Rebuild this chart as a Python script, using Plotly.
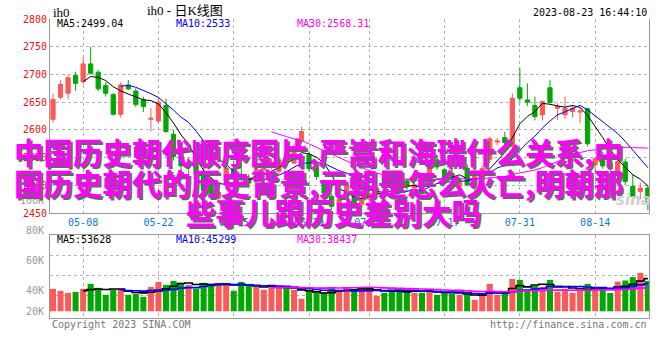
import plotly.graph_objects as go
import pandas as pd

# ---------------- data ----------------
dates = [
    "04-27", "04-28",
    "05-04", "05-05", "05-08", "05-09", "05-10", "05-11", "05-12",
    "05-15", "05-16", "05-17", "05-18", "05-19",
    "05-22", "05-23", "05-24", "05-25", "05-26",
    "05-29", "05-30", "05-31",
    "06-01", "06-02", "06-05", "06-06", "06-07", "06-08", "06-09",
    "06-12", "06-13", "06-14", "06-15", "06-16",
    "06-19", "06-20", "06-21",
    "06-26", "06-27", "06-28", "06-29", "06-30",
    "07-03", "07-04", "07-05", "07-06", "07-07",
    "07-10", "07-11", "07-12", "07-13", "07-14",
    "07-17", "07-18", "07-19", "07-20", "07-21",
    "07-24", "07-25", "07-26", "07-27", "07-28",
    "07-31",
    "08-01", "08-02", "08-03", "08-04",
    "08-07", "08-08", "08-09", "08-10", "08-11",
    "08-14", "08-15", "08-16", "08-17", "08-18",
    "08-21", "08-22", "08-23",
]

open_ = [2619, 2659, 2666, 2698, 2687, 2719, 2704, 2680, 2664, 2628,
         2681, 2670, 2654, 2619, 2616, 2644, 2592, 2552, 2536, 2540,
         2522, 2505, 2477, 2510, 2530, 2520, 2513, 2510, 2528, 2535,
         2525, 2555, 2540, 2580, 2555, 2531, 2504, 2480, 2466, 2476,
         2486, 2466, 2475, 2485, 2513, 2505, 2510, 2508, 2495, 2500,
         2512, 2546, 2528, 2520, 2498, 2531, 2495, 2520, 2547, 2578,
         2586, 2570, 2676, 2654, 2644, 2627, 2676, 2639, 2627, 2633,
         2632, 2638, 2537, 2553, 2540, 2525, 2542, 2498, 2489, 2495]
high = [2665, 2689, 2699, 2705, 2731, 2750, 2708, 2686, 2666, 2686,
        2690, 2675, 2660, 2640, 2660, 2656, 2600, 2560, 2550, 2548,
        2530, 2515, 2490, 2535, 2545, 2550, 2520, 2532, 2545, 2548,
        2550, 2560, 2575, 2605, 2560, 2540, 2510, 2485, 2480, 2505,
        2490, 2480, 2490, 2500, 2520, 2515, 2515, 2512, 2510, 2505,
        2540, 2550, 2532, 2530, 2512, 2538, 2530, 2535, 2588, 2585,
        2596, 2666, 2711, 2684, 2660, 2653, 2690, 2648, 2660, 2645,
        2640, 2640, 2552, 2560, 2548, 2548, 2548, 2520, 2505, 2500]
low = [2613, 2655, 2655, 2670, 2682, 2700, 2670, 2660, 2626, 2622,
       2672, 2641, 2632, 2597, 2612, 2595, 2545, 2525, 2520, 2515,
       2485, 2475, 2470, 2505, 2510, 2505, 2495, 2505, 2520, 2528,
       2520, 2535, 2538, 2575, 2525, 2510, 2480, 2455, 2458, 2470,
       2462, 2460, 2470, 2480, 2500, 2488, 2495, 2490, 2490, 2480,
       2508, 2528, 2503, 2505, 2495, 2498, 2490, 2515, 2540, 2572,
       2572, 2567, 2651, 2643, 2617, 2617, 2648, 2618, 2620, 2622,
       2612, 2570, 2525, 2530, 2522, 2520, 2500, 2466, 2475, 2455]
close = [2655, 2682, 2694, 2684, 2719, 2702, 2674, 2666, 2628, 2681,
         2674, 2646, 2642, 2621, 2650, 2597, 2552, 2535, 2539, 2520,
         2490, 2480, 2487, 2531, 2515, 2510, 2504, 2528, 2540, 2542,
         2546, 2540, 2570, 2597, 2530, 2516, 2486, 2462, 2474, 2500,
         2468, 2475, 2485, 2495, 2504, 2495, 2500, 2498, 2501, 2485,
         2537, 2533, 2507, 2510, 2508, 2501, 2525, 2530, 2584, 2580,
         2577, 2657, 2657, 2650, 2624, 2651, 2649, 2642, 2639, 2639,
         2634, 2575, 2548, 2535, 2530, 2543, 2507, 2480, 2495, 2470]
volume = [36800, 33500, 30200, 31900, 36800, 44900, 38400, 27000, 35100, 36800,
          27000, 28600, 23700, 40000, 48200, 43300, 49800, 46600, 43300, 36800,
          46600, 44900, 46600, 44900, 33500, 48200, 41700, 40000, 35100, 40000,
          40000, 40000, 35100, 20400, 33500, 30200, 30200, 38400, 33500, 38400,
          35100, 38400, 38400, 25300, 30200, 35100, 35100, 33500, 30200, 30200,
          36800, 27000, 30200, 28600, 27000, 28600, 18800, 28600, 45000, 27000,
          33500, 53100, 51500, 35100, 41700, 40000, 51500, 31900, 36800, 30200,
          35100, 45000, 40000, 35100, 30000, 48600, 50500, 56000, 63000, 49800]

tick_dates = ["05-08", "05-22", "06-05", "06-19", "07-03", "07-17", "07-31", "08-14"]
price_ticks = [2450, 2500, 2550, 2600, 2650, 2700, 2750, 2800]
vol_axis_labels = ["100K", "80K", "60K", "40K", "20K"]

price_ma_labels = ["MA5:2499.04", "MA10:2533", "MA30:2568.31"]
vol_ma_labels = ["MA5:53628", "MA10:45299", "MA30:38437"]
header_left = "ih0"
header_title = "ih0 - 日K线图"
timestamp = "2023-08-23 16:44:10"
footer_left = "Copyright 2023 SINA.COM"
footer_right = "http://finance.sina.com.cn"
watermark = "sina"
title_lines = [
    "中国历史朝代顺序图片,严嵩和海瑞什么关系,中",
    "国历史朝代的历史背景,元朝是怎么灭亡,明朝那",
    "些事儿跟历史差别大吗",
]

# ---------------- derived ----------------
c = pd.Series(close, dtype=float)
v = pd.Series(volume, dtype=float)
ma5, ma10, ma30 = c.rolling(5).mean(), c.rolling(10).mean(), c.rolling(30).mean()
vma5, vma10, vma30 = v.rolling(5).mean(), v.rolling(10).mean(), v.rolling(30).mean()

RED = "#fa5a5a"
GREEN = "#00a800"
vol_colors = [RED if cl >= op else GREEN for op, cl in zip(open_, close)]

# ---------------- geometry ----------------
W, H = 660, 360
L, R, T, B = 50, 11, 19, 42
PH = H - T - B


def py(p):
    return (H - B - p) / PH


def px(p):
    return (p - L) / (W - L - R)


MONO = "DejaVu Sans Mono"
GRID = "#b0b0b0"
FRAME = "#999999"

fig = go.Figure()
fig.add_trace(go.Candlestick(
    x=dates, open=open_, high=high, low=low, close=close,
    increasing=dict(line=dict(color=RED, width=1), fillcolor=RED),
    decreasing=dict(line=dict(color=GREEN, width=1), fillcolor=GREEN),
    whiskerwidth=0, showlegend=False, xaxis="x", yaxis="y",
))
for s, col in [(ma5, "#000000"), (ma10, "#0000ff"), (ma30, "#ff00ff")]:
    fig.add_trace(go.Scatter(x=dates, y=s, mode="lines", line=dict(color=col, width=1),
                             showlegend=False, xaxis="x", yaxis="y"))

fig.add_trace(go.Bar(x=dates, y=volume, marker=dict(color=vol_colors, line=dict(width=0)),
                     showlegend=False, xaxis="x2", yaxis="y2"))
for s, col in [(vma5, "#000000"), (vma10, "#0000ff"), (vma30, "#ff00ff")]:
    fig.add_trace(go.Scatter(x=dates, y=s, mode="lines", line=dict(color=col, width=1.6, shape="hvh"),
                             showlegend=False, xaxis="x2", yaxis="y2"))

xr = [-0.4, len(dates) - 1 + 0.15]
common_x = dict(type="category", range=xr, tickmode="array", tickvals=tick_dates,
                showgrid=True, gridcolor=GRID, griddash="dot", gridwidth=1,
                ticks="", zeroline=False, fixedrange=True)

fig.update_layout(
    width=W, height=H, margin=dict(l=L, r=R, t=T, b=B),
    paper_bgcolor="white", plot_bgcolor="white",
    boxgap=0.2, bargap=0.2,
    xaxis=dict(**common_x, ticktext=tick_dates, domain=[0, 1], anchor="y",
               showline=True, linecolor=FRAME, linewidth=1, mirror=False,
               tickfont=dict(family=MONO, size=10, color="#0a78c8"),
               rangeslider=dict(visible=False)),
    yaxis=dict(domain=[py(213), 1], range=[2450, 2800], tickvals=price_ticks,
               tickfont=dict(family=MONO, size=10, color="#ee1111"),
               showgrid=True, gridcolor=GRID, griddash="dot", zeroline=False,
               showline=True, linecolor=FRAME, linewidth=1, mirror=True, ticks="",
               anchor="x", fixedrange=True),
    xaxis2=dict(**common_x, showticklabels=False, domain=[0, 1], anchor="y2",
                showline=True, linecolor=FRAME, linewidth=1, mirror=True),
    yaxis2=dict(domain=[0, py(234.5)], range=[-11000, 125800],
                tickvals=[25800, 58500, 91200], showticklabels=False,
                showgrid=True, gridcolor=GRID, griddash="dot", zeroline=False,
                showline=True, linecolor=FRAME, linewidth=1, mirror=True, ticks="",
                anchor="x2", fixedrange=True),
)

ann = []


def text(t, x, y, size=10, color="#000", family=MONO, xanchor="left", **kw):
    ann.append(dict(text=t, x=px(x), y=py(y), xref="paper", yref="paper",
                    xanchor=xanchor, yanchor="middle", showarrow=False,
                    font=dict(family=family, size=size, color=color, **kw)))


# header
text(header_left, 51, 12, size=13, family="Liberation Serif", color="#000")
text(header_title, 185, 10, size=13, family="Liberation Serif, Noto Sans CJK SC",
     color="#000", xanchor="center")
text(timestamp, 649, 12, xanchor="right")

# MA labels
for t, x, col in zip(price_ma_labels, [55, 174, 295], ["#000", "#0000ff", "#ff00ff"]):
    text(t, x, 24, color=col)
for t, x, col in zip(vol_ma_labels, [55, 174, 295], ["#000", "#0000ff", "#ff00ff"]):
    text(t, x, 239, color=col)

# volume axis labels
for t, y in zip(vol_axis_labels, [200, 230, 260, 290, 311]):
    text(t, 46, y, color="#999999", xanchor="right")

# footer
text(footer_left, 50, 324, color="#777777")
text(footer_right, 649, 324, color="#777777", xanchor="right")

# watermark
text(watermark, 633, 200, size=15, family="DejaVu Sans", color="#cfcfcf",
     xanchor="center", style="italic", weight="bold")

# overlay title
for t, x, y in zip(title_lines, [318, 318, 333], [151, 181.5, 210.5]):
    text(t, x, y, size=29.5, family="Noto Sans CJK SC", color="#ff00ff",
         xanchor="center", weight="bold", shadow="2px 2px 0px #666666")

fig.update_layout(annotations=ann)
fig.write_html("out.html", config={"displayModeBar": False},
               post_script="document.body.style.margin='0';")
